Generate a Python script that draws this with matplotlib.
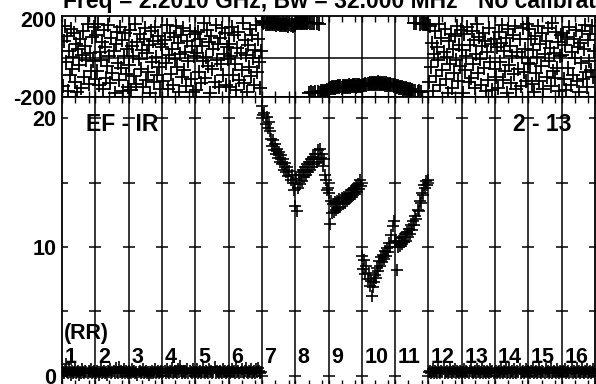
import numpy as np
import matplotlib.pyplot as plt
from matplotlib.ticker import FixedLocator

plt.rcParams["font.family"] = ["Liberation Sans", "DejaVu Sans"]
plt.rcParams["font.weight"] = "bold"

N_CHAN = 32
IF_LABELS = [str(i) for i in range(1, 17)]
NOISE_IFS = [1, 2, 3, 4, 5, 6, 12, 13, 14, 15, 16]
LINE_IFS = [7, 8, 9, 10, 11]

# phase (deg) per channel, IFs without signal
noise_phase = [
    [-143, 87, 165, -21, 112, -170, 34, -88, 150, -59, 3, 128, -121, 71, -176, 45, -34, 96, -152, 17, 139, -97, 62, -8, 174, -131, 23, -66, 105, -14, 158, -109],
    [118, -66, 174, -139, 29, -12, 83, -160, 141, 55, -101, -43, 167, 9, -128, 102, -77, 38, -179, 74, 133, -25, -115, 158, -50, 91, -168, 12, 127, -84, 47, -147],
    [-38, 145, -163, 60, 11, -92, 176, -134, 81, -7, 121, -56, 39, -149, 99, 154, -112, 24, -71, 66, -178, 136, -19, 88, -125, 160, 5, -86, 114, -44, -157, 70],
    [56, -117, 92, -25, 171, -158, 13, 130, -80, 44, -136, 107, -3, 163, -48, 77, -172, 21, 118, -99, 152, -62, 31, -145, 86, -18, 139, -107, 63, -175, 8, 124],
    [-164, 26, 134, -72, 95, -130, 61, -15, 177, -104, 6, 143, -40, 84, -177, 115, -58, 48, -123, 169, -9, 70, -151, 102, -33, 155, -88, 19, 127, -141, 58, -4],
    [73, -149, 8, 157, -85, 116, -30, -166, 52, 131, -111, 25, -64, 179, -126, 90, 14, -174, 64, -46, 148, -93, 119, -2, -137, 42, 170, -70, 99, -20, -155, 35],
    [-121, 164, -45, 78, -168, 21, 136, -90, 55, -11, 172, -140, 101, -63, 30, 149, -106, 4, -180, 86, -29, 124, -155, 47, -76, 111, -8, 162, -118, 68, -39, 143],
    [42, -178, 121, -61, 10, 158, -124, 67, -101, 140, -30, 93, -153, 18, 175, -78, 109, -7, -137, 59, 128, -49, 85, -170, 33, -112, 151, -22, 74, -162, 97, -57],
    [-96, 58, -153, 133, -20, 77, 171, -112, 36, -68, 104, -177, 147, -37, 62, -128, 12, 117, -83, 166, -160, 29, -55, 95, -142, 7, 156, -74, 48, -119, 176, -27],
    [150, -33, 96, -131, 39, -176, 113, -75, 5, 165, -117, 71, -42, 127, -159, 20, 88, -99, 153, -14, 50, -143, 178, -66, 26, -103, 134, -51, 82, -170, 11, 119],
    [17, 129, -107, 68, -166, 108, -52, 160, -139, 32, -86, 97, -1, 145, -120, 57, -173, 79, -28, 139, -110, 44, 170, -73, -148, 92, -16, 125, -60, 163, -95, 38],
]

# amplitude per channel, IFs without signal
noise_amp = [
    [0.3, 0.2, 0.4, 0.9, 0.3, 0.2, 0.5, 0.3, 0.1, 0.4, 0.2, 0.3, 0.6, 0.2, 0.3, 0.4, 0.1, 0.3, 0.2, 0.5, 0.3, 0.2, 0.4, 0.3, 0.2, 0.4, 0.3, 0.5, 0.2, 0.3, 0.4, 0.2],
    [0.2, 0.4, 0.3, 0.1, 0.3, 0.5, 0.2, 0.3, 0.4, 0.2, 0.3, 0.1, 0.4, 0.3, 0.5, 0.2, 0.3, 0.4, 0.2, 0.6, 0.3, 0.2, 0.7, 0.3, 0.4, 0.2, 0.3, 0.5, 0.2, 0.4, 0.3, 0.2],
    [0.4, 0.3, 0.2, 0.5, 0.3, 0.4, 0.2, 0.3, 0.1, 0.3, 0.4, 0.2, 0.3, 0.5, 0.2, 0.3, 0.4, 0.2, 0.3, 0.1, 0.3, 0.2, 0.4, 0.2, 0.3, 0.5, 0.2, 0.3, 0.4, 0.2, 0.3, 0.4],
    [0.2, 0.3, 0.4, 0.2, 0.5, 0.3, 0.2, 0.4, 0.3, 0.6, 0.2, 0.3, 0.4, 0.3, 0.2, 0.5, 0.3, 0.8, 0.4, 0.2, 0.3, 0.4, 0.2, 0.3, 0.5, 0.2, 0.4, 0.3, 0.2, 0.5, 0.3, 0.2],
    [0.3, 0.5, 0.2, 0.3, 0.4, 0.2, 0.3, 0.6, 0.3, 0.2, 0.4, 0.3, 0.2, 0.5, 0.3, 0.4, 0.2, 0.3, 0.7, 0.2, 0.4, 0.3, 0.2, 0.4, 0.3, 0.2, 0.5, 0.3, 0.4, 0.2, 0.3, 0.4],
    [0.4, 0.2, 0.3, 0.5, 0.3, 0.4, 0.2, 0.6, 0.3, 0.4, 0.2, 0.3, 0.5, 0.3, 0.2, 0.4, 0.6, 0.3, 0.2, 0.4, 0.3, 0.5, 0.2, 0.3, 0.4, 0.2, 0.5, 0.3, 0.6, 0.4, 0.2, 0.3],
    [0.3, 0.4, 0.2, 0.3, 0.5, 0.2, 0.4, 0.3, 0.2, 0.6, 0.3, 0.2, 0.4, 0.3, 0.5, 0.2, 0.3, 0.4, 0.2, 0.3, 0.5, 0.3, 0.2, 0.4, 0.3, 0.5, 0.2, 0.4, 0.3, 0.2, 0.4, 0.3],
    [0.2, 0.3, 0.5, 0.2, 0.4, 0.3, 0.2, 0.4, 0.6, 0.3, 0.2, 0.3, 0.4, 0.2, 0.5, 0.3, 0.4, 0.2, 0.3, 0.5, 0.2, 0.4, 0.3, 0.2, 0.4, 0.3, 0.2, 0.5, 0.3, 0.4, 0.2, 0.3],
    [0.4, 0.2, 0.3, 0.4, 0.2, 0.5, 0.3, 0.2, 0.4, 0.3, 0.5, 0.2, 0.3, 0.6, 0.2, 0.3, 0.4, 0.2, 0.5, 0.3, 0.2, 0.4, 0.3, 0.5, 0.2, 0.3, 0.4, 0.2, 0.3, 0.5, 0.3, 0.4],
    [0.3, 0.2, 0.4, 0.3, 0.6, 0.2, 0.3, 0.4, 0.2, 0.3, 0.5, 0.3, 0.2, 0.4, 0.3, 0.2, 0.5, 0.3, 0.4, 0.2, 0.3, 0.6, 0.2, 0.3, 0.4, 0.3, 0.2, 0.5, 0.3, 0.2, 0.4, 0.3],
    [0.2, 0.4, 0.3, 0.5, 0.2, 0.3, 0.4, 0.2, 0.3, 0.5, 0.2, 0.4, 0.3, 0.2, 0.6, 0.3, 0.4, 0.2, 0.3, 0.5, 0.3, 0.2, 0.4, 0.3, 0.5, 0.2, 0.3, 0.4, 0.2, 0.3, 0.5, 0.3],
]

# phase (deg) per channel, IFs 7-11
line_phase = [
    [188, 178, 183, 175, 185, 176, 181, 173, 184, 172, 180, 174, 182, 171, 178, 173, 180, 169, 176, 171, 179, 167, 175, 170, 177, 166, 173, 168, 176, 165, 171, 167],
    [181, 179, 183, 180, 182, 178, 181, 184, 179, 182, 180, 177, 183, -179, 179, -176, 181, -178, 177, -175, 180, -173, 176, -177, -171, -174, -169, -172, -167, -170, -166, -168],
    [-158, -152, -155, -149, -156, -150, -153, -147, -151, -145, -150, -146, -152, -144, -148, -143, -150, -145, -147, -141, -148, -142, -146, -140, -145, -141, -147, -139, -144, -140, -146, -142],
    [-142, -136, -139, -133, -137, -131, -135, -129, -134, -128, -133, -126, -131, -127, -133, -125, -132, -128, -134, -127, -133, -129, -136, -130, -137, -132, -139, -134, -141, -136, -143, -138],
    [-146, -150, -145, -152, -149, -155, -151, -157, -153, -159, -156, -161, -158, -163, -160, -166, -163, -168, 179, -170, 177, -173, -171, 176, -175, 178, 174, 178, 173, 176, 172, 175],
]

# amplitude per channel, IFs 7-11
line_amp = [
    [20.9, 20.2, 20.4, 19.5, 20.1, 19.2, 19.7, 19.0, 18.4, 17.8, 18.3, 17.5, 18.0, 17.2, 17.6, 16.9, 17.4, 16.6, 17.1, 16.4, 16.8, 16.0, 16.5, 15.8, 16.2, 15.5, 15.9, 15.2, 15.6, 15.0, 14.4, 13.2],
    [15.3, 12.8, 14.6, 15.6, 14.9, 15.8, 15.1, 16.0, 15.4, 16.2, 15.6, 16.4, 15.8, 16.6, 16.0, 16.8, 16.2, 17.0, 16.4, 17.2, 16.6, 17.5, 16.8, 17.6, 16.9, 17.2, 16.3, 16.8, 15.6, 15.2, 14.4, 14.6],
    [14.2, 11.8, 13.6, 12.6, 13.3, 12.7, 13.5, 12.9, 13.6, 13.0, 13.7, 13.1, 13.8, 13.3, 13.9, 13.4, 14.0, 13.6, 14.1, 13.7, 14.2, 13.9, 14.4, 14.0, 14.6, 14.1, 14.7, 14.3, 14.9, 14.5, 15.2, 14.7],
    [9.3, 8.3, 9.0, 7.9, 8.5, 7.5, 8.0, 7.0, 7.4, 6.2, 6.9, 7.3, 7.8, 7.6, 8.4, 8.1, 8.9, 8.5, 9.2, 8.8, 9.4, 9.1, 9.7, 9.3, 9.9, 9.6, 10.3, 10.0, 10.9, 11.6, 12.0, 10.5],
    [10.4, 8.2, 10.0, 10.5, 10.1, 10.7, 10.2, 10.8, 10.4, 11.0, 10.5, 11.2, 10.8, 11.4, 11.0, 11.7, 11.3, 12.0, 11.7, 12.4, 12.2, 12.9, 12.8, 13.6, 13.4, 14.2, 14.0, 14.8, 14.6, 15.1, 14.8, 15.2],
]


def chan_x(if_num):
    return if_num - 1 + (np.arange(N_CHAN) + 0.5) / N_CHAN


W, H = 596, 384
fig = plt.figure(figsize=(W / 100, H / 100), dpi=100)
ax_ph = fig.add_axes([62 / W, 1 - 97 / H, 533 / W, 81 / H])
ax_amp = fig.add_axes([62 / W, -2 / H, 533 / W, 289 / H])

ph_cross = dict(ls="none", marker="+", color="black", ms=10, mew=1.3)
amp_cross = dict(ls="none", marker="+", color="black", ms=9, mew=1.2)

for ifn, ph, amp in zip(NOISE_IFS, noise_phase, noise_amp):
    ax_ph.plot(chan_x(ifn), ph, **ph_cross)
    ax_amp.plot(chan_x(ifn), amp, **amp_cross)
for ifn, ph, amp in zip(LINE_IFS, line_phase, line_amp):
    ax_ph.plot(chan_x(ifn), ph, **ph_cross)
    ax_amp.plot(chan_x(ifn), amp, **amp_cross)

n_if = len(IF_LABELS)
minor = [i + f for i in range(n_if) for f in (0.4, 0.8)]
for ax in (ax_ph, ax_amp):
    ax.set_xlim(0, n_if)
    for i in range(1, n_if):
        ax.axvline(i, color="black", lw=1.1, zorder=1)
    for sp in ax.spines.values():
        sp.set_linewidth(1.3)
    ax.xaxis.set_major_locator(FixedLocator(range(n_if + 1)))
    ax.xaxis.set_minor_locator(FixedLocator(minor))
    ax.tick_params(axis="x", which="both", direction="in", length=4, width=1.0,
                   labelbottom=False, top=True, bottom=True)
    ax.tick_params(axis="y", length=0, labelsize=15.5, pad=4)

ax_ph.set_ylim(-200, 215)
ax_ph.axhline(0, color="black", lw=1.1, zorder=1)
ax_ph.set_yticks([-200, 200])
ax_ph.set_yticklabels(["-200", "200"])

ax_amp.set_ylim(-0.78, 21.63)
ax_amp.set_yticks([0, 10, 20])
ax_amp.set_yticklabels(["0", "10", "20"])
gx, gy = np.meshgrid(np.arange(n_if + 1), [0, 5, 10, 15, 20])
ax_amp.plot(gx.ravel(), gy.ravel(), ls="none", marker="_", ms=8, mew=1.1, color="black", zorder=1)

ax_amp.text(1.8, 19.5, "EF - IR", ha="center", va="center", fontsize=16.5)
ax_amp.text(14.41, 19.5, "2 - 13", ha="center", va="center", fontsize=16.5)
ax_amp.text(0.06, 3.3, "(RR)", ha="left", va="center", fontsize=15.5)
for i, lab in enumerate(IF_LABELS):
    ax_amp.text(i + 0.08, 1.45, lab, ha="left", va="center", fontsize=15.5)

fig.text(63 / W, 1 - 8 / H, "Freq = 2.2010 GHz, Bw = 32.000 MHz", ha="left", va="baseline", fontsize=16.5)
fig.text(478 / W, 1 - 8 / H, "No calibration", ha="left", va="baseline", fontsize=16.5)

fig.savefig("out.png", dpi=100)
